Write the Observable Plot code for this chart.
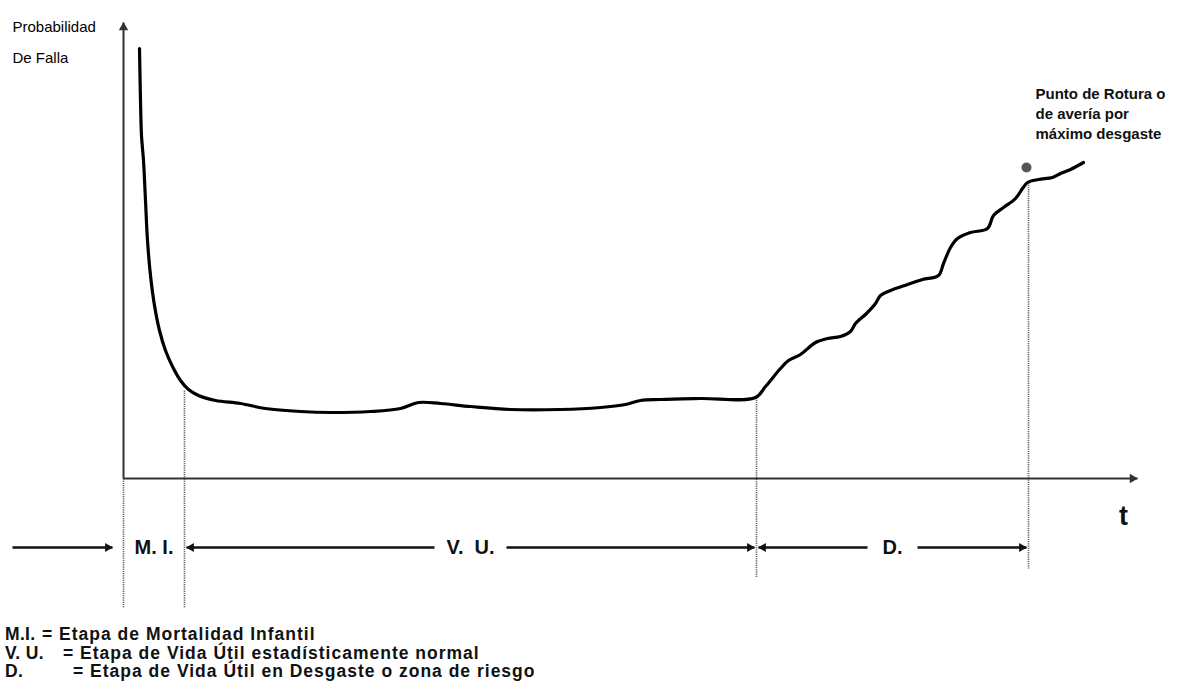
<!DOCTYPE html>
<html><head><meta charset="utf-8">
<script src="https://cdn.jsdelivr.net/npm/d3@7"></script>
<script src="https://cdn.jsdelivr.net/npm/@observablehq/plot@0.6"></script>
<style>
body{margin:0;background:#fff;font-family:"Liberation Sans",Arial,sans-serif;}
#chart svg{display:block;font-family:"Liberation Sans",Arial,sans-serif;}
#legend{padding:5px 0 0 0;font-weight:bold;font-size:17.5px;line-height:18.5px;color:#111;letter-spacing:1px;white-space:pre;}
#legend .row{position:relative;height:18.5px;}
#legend .k{position:absolute;left:5px;top:0;letter-spacing:0.3px;}
#legend .v{position:absolute;top:0;}
</style></head><body>
<div id="chart"></div>
<div id="legend"></div>
<script>
// ---- data (time t, probability of failure p; arbitrary units) ----
const tValues = [16,17,18,20,22,24,27,31,36,42,49,57,65,75,92,117,142,177,207,247,277,295,317,347,387,437,477,502,517,537,577,632,
  642,657,665,677,692,704,717,727,732,743,752,757,767,784,799,815,820,827,834,847,864,870,880,892,899,904,915,929,937,947,960];
const pValues = [430,378,343,318,278,238,203,173,148,128,112,98,89,83,78,75,70,67,66,67,70,76,75,72,69,69,71,74,78,79,80,81,
  92,110,118,124,136,140,142,147,155,165,175,183,188,194,199,203,215,231,240,246,250,263,271,280,290,296,299,301,305,309,316];
const breakPoint = {t: 903, p: 311};
const phaseBounds = [0, 61, 633, 905];           // M.I. | V.U. | D. limits on t
const boundTops = [0, 88, 81, 296];              // curve height at each limit
const boundBottoms = [-129, -129, -99, -90];     // end of the dotted guides
const phaseLabels = ["M. I.", "V.  U.", "D."];
const axisEnds = {t: 1014, p: 456};
const yLabel = ["Probabilidad", "De Falla"];
const xLabel = "t";
const breakLabel = ["Punto de Rotura o", "de avería por", "máximo desgaste"];
const legendKeys = ["M.I.", "V. U.", "D."];
const legendTexts = ["= Etapa de Mortalidad Infantil", "= Etapa de Vida Útil estadísticamente normal", "= Etapa de Vida Útil en Desgaste o zona de riesgo"];

// ---- layout / style ----
const rowY = -69;             // level of the phase arrows (below the t axis)
const leadIn = [-111, -11];   // arrow coming into M.I. from the left
const halfGap = [0, 36, 25];  // room left for each phase label
const eqLeft = [42, 63, 73];  // where the "=" of each legend line starts

const curve = tValues.map((t, i) => ({t, p: pValues[i]}));
const mids = phaseLabels.map((_, i) => (phaseBounds[i] + phaseBounds[i + 1]) / 2);
const guides = phaseBounds.map((t, i) => ({t, top: boundTops[i], bottom: boundBottoms[i]}));

const segs = [{a: leadIn[0], b: leadIn[1]}];
const headsR = [{t: leadIn[1]}];
const headsL = [];
for (let i = 1; i < phaseLabels.length; i++) {
  const l = phaseBounds[i] + 2, r = phaseBounds[i + 1] - 2;
  segs.push({a: l, b: mids[i] - halfGap[i]}, {a: mids[i] + halfGap[i], b: r});
  headsL.push({t: l});
  headsR.push({t: r});
}

const ink = "#111", axisInk = "#333";
const chart = Plot.plot({
  width: 1184, height: 620,
  marginLeft: 0, marginRight: 0, marginTop: 0, marginBottom: 0,
  x: {domain: [-123, 1061], axis: null},
  y: {domain: [-142, 478], axis: null},
  marks: [
    // dotted guides
    Plot.link(guides, {x1: "t", x2: "t", y1: "top", y2: "bottom", stroke: "#666", strokeWidth: 1.7, strokeDasharray: "1.2,1"}),
    // axes
    Plot.link([{a: 0, b: axisEnds.p}], {x1: () => 0, x2: () => 0, y1: "a", y2: "b", stroke: axisInk, strokeWidth: 2}),
    Plot.link([{a: 0, b: axisEnds.t}], {x1: "a", x2: "b", y1: () => 0, y2: () => 0, stroke: axisInk, strokeWidth: 2}),
    Plot.dot([axisEnds], {x: () => 0, y: "p", symbol: "triangle2", r: 4.5, fill: axisInk, dy: 5}),
    Plot.dot([axisEnds], {x: "t", y: () => 0, symbol: "triangle2", r: 4.5, fill: axisInk, rotate: 90, dx: -5}),
    // curve
    Plot.line(curve, {x: "t", y: "p", stroke: "#000", strokeWidth: 3.2, curve: "catmull-rom", strokeLinejoin: "round", strokeLinecap: "round"}),
    Plot.dot([breakPoint], {x: "t", y: "p", r: 5, fill: "#555"}),
    // phase arrows
    Plot.link(segs, {x1: "a", x2: "b", y1: () => rowY, y2: () => rowY, stroke: ink, strokeWidth: 2.6}),
    Plot.dot(headsR, {x: "t", y: () => rowY, symbol: "triangle2", r: 4.3, fill: ink, rotate: 90, dx: -4.8}),
    Plot.dot(headsL, {x: "t", y: () => rowY, symbol: "triangle2", r: 4.3, fill: ink, rotate: -90, dx: 4.8}),
    Plot.text(phaseLabels, {x: (d, i) => mids[i], y: () => rowY, text: d => d, fontSize: 20, fontWeight: "bold", fill: ink}),
    // labels
    Plot.text([yLabel.join("\n")], {frameAnchor: "top-left", dx: 12, dy: 9, fontSize: 15, lineHeight: 2.07, fill: "#000", text: d => d}),
    Plot.text([xLabel], {x: () => axisEnds.t, y: () => 0, dx: -14, dy: 38, fontSize: 27, fontWeight: "bold", fill: ink, text: d => d}),
    Plot.text([breakLabel.join("\n")], {x: () => breakPoint.t, y: () => breakPoint.p, dx: 9, dy: -55, textAnchor: "start", fontSize: 15, lineHeight: 1.33, fontWeight: "bold", fill: ink, text: d => d, style: {letterSpacing: "0.5px"}})
  ]
});
document.getElementById("chart").append(chart);

const legend = d3.select("#legend");
legendKeys.forEach((k, i) => {
  const row = legend.append("div").attr("class", "row");
  row.append("span").attr("class", "k").text(k);
  row.append("span").attr("class", "v").style("left", eqLeft[i] + "px").text(legendTexts[i]);
});
</script>
</body></html>
